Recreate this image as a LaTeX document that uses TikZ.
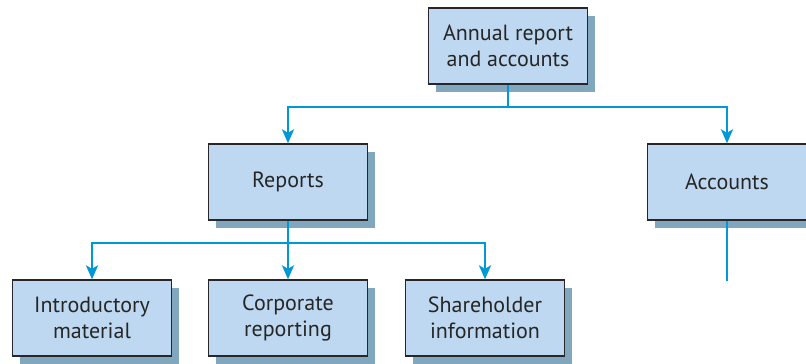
\documentclass[tikz,border=0pt]{standalone}
\usepackage{fontspec}
\setmainfont{PT Sans}
\usetikzlibrary{arrows.meta,shadows}
\definecolor{boxfill}{RGB}{189,216,240}
\definecolor{shadowc}{RGB}{128,167,189}
\definecolor{linec}{RGB}{0,152,214}
\definecolor{borderc}{RGB}{40,38,40}
\tikzset{
  orgbox/.style={draw=borderc, line width=1.3pt, fill=boxfill, minimum width=159pt, minimum height=76pt,
    inner sep=0pt, align=center, font=\fontsize{22}{26}\selectfont, text=black!85,
    drop shadow={shadow xshift=7pt, shadow yshift=-8pt, fill=shadowc, opacity=1}},
  conn/.style={draw=linec, line width=2.8pt},
  arr/.style={conn, -{Stealth[length=14pt,width=12pt,inset=3.5pt]}}
}
\begin{document}
\begin{tikzpicture}[x=1pt,y=-1pt]
\useasboundingbox (0,0) rectangle (806,364);
\clip (0,0) rectangle (806,364);
\node[orgbox] (top) at (508,46) {Annual report\\and accounts};
\node[orgbox] (rep) at (288,182) {Reports};
\node[orgbox] (acc) at (727,182) {Accounts};
\node[orgbox] (intro) at (92,318) {Introductory\\material};
\node[orgbox] (corp) at (288,318) {Corporate\\reporting};
\node[orgbox] (share) at (485,318) {Shareholder\\information};
\coordinate (j1) at (508,107);
\coordinate (j2) at (288,243);
\coordinate (accend) at (727,281);
\draw[conn] (top.south) -- (j1);
\draw[arr] (j1) -| (rep.north);
\draw[arr] (j1) -| (acc.north);
\draw[conn] (rep.south) -- (j2);
\draw[arr] (j2) -| (intro.north);
\draw[arr] (j2) -- (corp.north);
\draw[arr] (j2) -| (share.north);
\draw[conn] (acc.south) -- (accend);
\end{tikzpicture}
\end{document}
